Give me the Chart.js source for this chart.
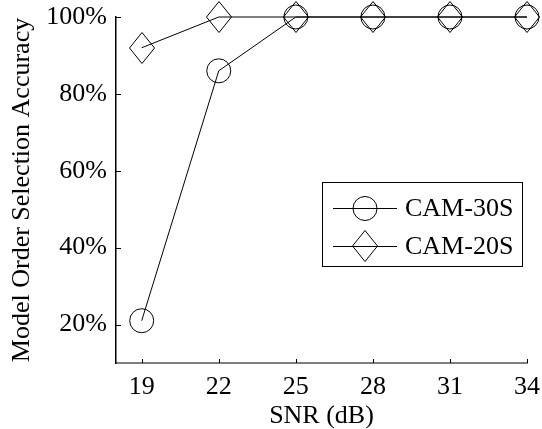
<!DOCTYPE html>
<html lang="en">
<head>
<meta charset="UTF-8">
<title>Model Order Selection Accuracy</title>
<script src="https://cdn.jsdelivr.net/npm/chart.js"></script>
<style>
    html, body { margin: 0; padding: 0; background: #fff; }
    #wrap { width: 542px; height: 429px; position: relative; }
</style>
</head>
<body>
<div id="wrap"><canvas id="accChart"></canvas></div>
<script>
const snrValues = [19, 22, 25, 28, 31, 34];
const cam30s = [21, 86, 100, 100, 100, 100];
const cam20s = [92, 100, 100, 100, 100, 100];
const yTickValues = [20, 40, 60, 80, 100];
const seriesNames = ['CAM-30S', 'CAM-20S'];

const FONT = "'Liberation Serif', 'Times New Roman', Times, serif";
const FONT_SIZE = 26;

// hollow diamond, a little taller than wide
function makeDiamond(hw, hh) {
    const c = document.createElement('canvas');
    c.width = hw * 2 + 2;
    c.height = hh * 2 + 2;
    const g = c.getContext('2d');
    g.strokeStyle = '#000';
    g.lineWidth = 1;
    g.beginPath();
    g.moveTo(hw + 1, 0.5);
    g.lineTo(2 * hw + 1.5, hh + 1);
    g.lineTo(hw + 1, 2 * hh + 1.5);
    g.lineTo(0.5, hh + 1);
    g.closePath();
    g.stroke();
    return c;
}
const diamond = makeDiamond(12, 15);

function toPoints(ys) {
    return snrValues.map((x, i) => ({ x: x, y: ys[i] }));
}

// keep the marker images crisp
const crispImages = {
    id: 'crispImages',
    beforeDatasetsDraw(chart) { chart.ctx.imageSmoothingEnabled = false; },
    afterDatasetsDraw(chart) { chart.ctx.imageSmoothingEnabled = true; }
};

// small tick marks pointing into the plot
const innerTicks = {
    id: 'innerTicks',
    afterDraw(chart) {
        const ctx = chart.ctx;
        const xs = chart.scales.x, ys = chart.scales.y;
        const a = chart.chartArea;
        ctx.save();
        ctx.strokeStyle = '#000';
        ctx.lineWidth = 1;
        ctx.beginPath();
        snrValues.forEach(v => {
            const px = Math.round(xs.getPixelForValue(v)) + 0.5;
            ctx.moveTo(px, a.bottom);
            ctx.lineTo(px, a.bottom - 4);
        });
        yTickValues.forEach(v => {
            const py = Math.round(ys.getPixelForValue(v)) + 0.5;
            ctx.moveTo(a.left, py);
            ctx.lineTo(a.left + 5, py);
        });
        ctx.stroke();
        ctx.restore();
    }
};

// boxed legend with a line segment through each marker
const boxLegend = {
    id: 'boxLegend',
    afterDraw(chart) {
        const ctx = chart.ctx;
        const left = 322.5, top = 182.5, right = 522.5, bottom = 266.5;
        const rows = [208, 246];
        ctx.save();
        ctx.strokeStyle = '#000';
        ctx.lineWidth = 1;
        ctx.fillStyle = '#fff';
        ctx.fillRect(left, top, right - left, bottom - top);
        ctx.strokeRect(left, top, right - left, bottom - top);
        ctx.font = FONT_SIZE + 'px ' + FONT;
        ctx.textBaseline = 'middle';
        ctx.fillStyle = '#000';
        rows.forEach((y, i) => {
            const yy = y + 0.5;
            ctx.beginPath();
            ctx.moveTo(333, yy);
            ctx.lineTo(397, yy);
            ctx.stroke();
            if (i === 0) {
                ctx.beginPath();
                ctx.arc(365, yy, 12, 0, Math.PI * 2);
                ctx.stroke();
            } else {
                ctx.drawImage(diamond, 365 - diamond.width / 2, y - diamond.height / 2);
            }
            ctx.fillText(seriesNames[i], 405, y + 1);
        });
        ctx.restore();
    }
};

const lineStyle = {
    borderColor: '#000',
    borderWidth: 1,
    backgroundColor: 'transparent',
    pointBackgroundColor: 'transparent',
    pointBorderColor: '#000',
    pointBorderWidth: 1,
    tension: 0,
    clip: false
};

function draw() {
    new Chart(document.getElementById('accChart'), {
        type: 'line',
        data: {
            datasets: [
                Object.assign({ label: seriesNames[0], data: toPoints(cam30s), pointStyle: 'circle', pointRadius: 12 }, lineStyle),
                Object.assign({ label: seriesNames[1], data: toPoints(cam20s), pointStyle: diamond, pointRadius: 12 }, lineStyle)
            ]
        },
        options: {
            responsive: true,
            maintainAspectRatio: false,
            animation: false,
            layout: { padding: { top: 17, right: 15, left: 0, bottom: 0 } },
            plugins: {
                legend: { display: false },
                tooltip: { enabled: false }
            },
            scales: {
                x: {
                    type: 'linear',
                    min: 18,
                    max: 34,
                    afterBuildTicks: s => { s.ticks = snrValues.map(v => ({ value: v })); },
                    afterFit: s => { s.height = 66; s.paddingLeft = 0; s.paddingRight = 0; },
                    grid: { display: false },
                    border: { display: true, color: '#7f7f7f', width: 2 },
                    ticks: {
                        color: '#000',
                        padding: 1,
                        maxRotation: 0,
                        font: { family: FONT, size: FONT_SIZE }
                    },
                    title: {
                        display: true,
                        text: 'SNR (dB)',
                        color: '#000',
                        padding: { top: 0, bottom: 0 },
                        font: { family: FONT, size: FONT_SIZE, lineHeight: 1 }
                    }
                },
                y: {
                    min: 10,
                    max: 100,
                    afterBuildTicks: s => { s.ticks = yTickValues.map(v => ({ value: v })); },
                    afterFit: s => { s.width = 116; s.paddingTop = 0; s.paddingBottom = 0; },
                    grid: { display: false },
                    border: { display: true, color: '#000', width: 1.5 },
                    ticks: {
                        color: '#000',
                        padding: 1,
                        font: { family: FONT, size: FONT_SIZE },
                        callback: v => v + '%'
                    },
                    title: {
                        display: true,
                        text: 'Model Order Selection Accuracy',
                        color: '#000',
                        padding: { top: 7, bottom: 0 },
                        font: { family: FONT, size: FONT_SIZE }
                    }
                }
            }
        },
        plugins: [crispImages, innerTicks, boxLegend]
    });
}

// make sure the serif face is ready before the canvas text is drawn
if (document.fonts && document.fonts.load) {
    document.fonts.load(FONT_SIZE + "px 'Liberation Serif'").then(draw, draw);
} else {
    draw();
}
</script>
</body>
</html>
